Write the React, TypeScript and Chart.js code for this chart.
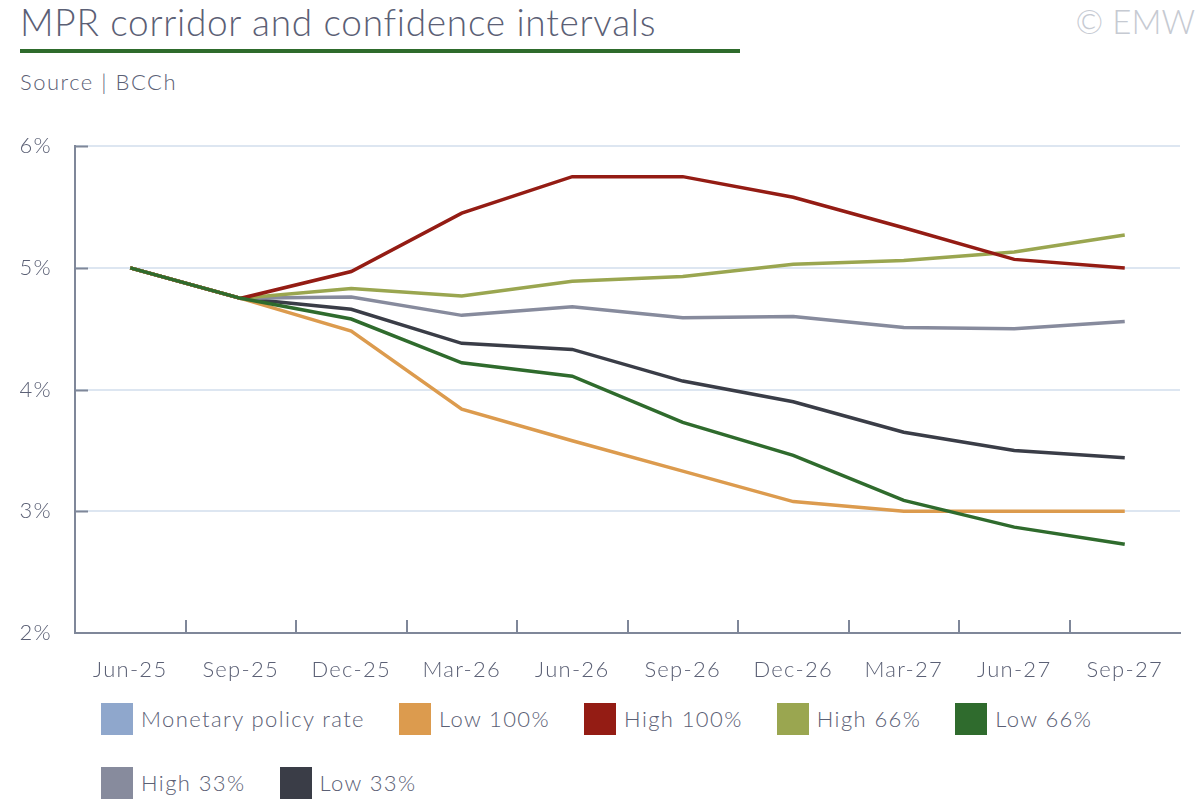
import React, { useEffect, useRef } from "react";
import { Chart, registerables } from "chart.js";
Chart.register(...registerables);

const categories = ["Jun-25", "Sep-25", "Dec-25", "Mar-26", "Jun-26", "Sep-26", "Dec-26", "Mar-27", "Jun-27", "Sep-27"];
const mpr = [5.0, 4.75, null, null, null, null, null, null, null, null];
const low100 = [5.0, 4.75, 4.48, 3.84, 3.58, 3.33, 3.08, 3.0, 3.0, 3.0];
const high100 = [5.0, 4.75, 4.97, 5.45, 5.75, 5.75, 5.58, 5.33, 5.07, 5.0];
const high66 = [5.0, 4.75, 4.83, 4.77, 4.89, 4.93, 5.03, 5.06, 5.13, 5.27];
const low66 = [5.0, 4.75, 4.58, 4.22, 4.11, 3.73, 3.46, 3.09, 2.87, 2.73];
const high33 = [5.0, 4.75, 4.76, 4.61, 4.68, 4.59, 4.6, 4.51, 4.5, 4.56];
const low33 = [5.0, 4.75, 4.66, 4.38, 4.33, 4.07, 3.9, 3.65, 3.5, 3.44];
const seriesNames = ["Monetary policy rate", "Low 100%", "High 100%", "High 66%", "Low 66%", "High 33%", "Low 33%"];
const seriesColors = ["#8fa7cc", "#dc9b4e", "#941c14", "#9aa650", "#2f6b2d", "#878b9d", "#3a3d47"];
const seriesData = [mpr, low100, high100, high66, low66, high33, low33];
const yMin = 2;
const yMax = 6;

const TEXT = "#5b6075";
const AXIS = "#7f8799";
const FONT = "Lato, 'Open Sans', sans-serif";

const spacing = {
  id: "spacing",
  beforeDraw(chart: any) {
    try { chart.ctx.letterSpacing = "1.3px"; } catch (e) {}
  },
};

const innerTicks = {
  id: "innerTicks",
  afterDraw(chart: any) {
    const { ctx } = chart;
    const x = chart.scales.x;
    const y = chart.scales.y;
    ctx.save();
    ctx.strokeStyle = AXIS;
    ctx.lineWidth = 2;
    ctx.beginPath();
    y.ticks.forEach((_t: any, i: number) => {
      const py = Math.round(y.getPixelForTick(i)) + 0.5;
      if (Math.abs(py - y.bottom) < 2) return;
      ctx.moveTo(x.left, py);
      ctx.lineTo(x.left + 13, py);
    });
    for (let i = 1; i < categories.length; i++) {
      const px = Math.round((x.getPixelForValue(i - 1) + x.getPixelForValue(i)) / 2);
      ctx.moveTo(px, y.bottom);
      ctx.lineTo(px, y.bottom - 13);
    }
    ctx.stroke();
    ctx.restore();
  },
};

export default function App() {
  const ref = useRef<HTMLCanvasElement | null>(null);
  useEffect(() => {
    if (!ref.current) return;
    const chart = new Chart(ref.current, {
      type: "line",
      data: {
        labels: categories,
        datasets: seriesNames.map((name, i) => ({
          label: name,
          data: seriesData[i],
          borderColor: seriesColors[i],
          backgroundColor: seriesColors[i],
          borderWidth: 3.5,
          pointRadius: 0,
          tension: 0,
          spanGaps: false,
          order: i === 4 ? -1 : i === 0 ? 10 : 0,
        })),
      },
      options: {
        responsive: false,
        animation: false,
        devicePixelRatio: 1,
        layout: { padding: { top: 35, right: 20, left: 0, bottom: 0 } },
        plugins: { legend: { display: false }, tooltip: { enabled: false }, title: { display: false } },
        scales: {
          x: {
            offset: true,
            grid: { display: true, color: "transparent", drawTicks: false, offset: true },
            border: { display: true, color: AXIS, width: 2 },
            ticks: { color: TEXT, font: { family: FONT, size: 22, weight: "300" }, padding: 24, maxRotation: 0, autoSkip: false },
            afterFit: (s: any) => { s.height = 57; },
          },
          y: {
            min: yMin,
            max: yMax,
            grid: { color: "#dde6f1", lineWidth: 2, drawTicks: false },
            border: { display: true, color: AXIS, width: 2 },
            ticks: {
              stepSize: 1,
              color: TEXT,
              font: { family: FONT, size: 22, weight: "300" },
              padding: 23,
              callback: (v: any) => `${v}%`,
            },
            afterFit: (s: any) => { s.width = 75; },
          },
        },
      },
      plugins: [spacing, innerTicks],
    });
    return () => chart.destroy();
  }, []);

  return (
    <div style={{ position: "absolute", left: 0, top: 0, width: 1200, height: 800, background: "#fff", fontFamily: FONT, color: TEXT, overflow: "hidden", fontWeight: 300 }}>
      <div style={{ position: "absolute", left: 20, top: 0, fontSize: 37, lineHeight: "44px", letterSpacing: "0.7px", whiteSpace: "nowrap" }}>
        MPR corridor and confidence intervals
      </div>
      <div style={{ position: "absolute", left: 20, top: 49, width: 720, height: 4, background: "#2e6b2c" }} />
      <div style={{ position: "absolute", left: 20, top: 68, fontSize: 22, lineHeight: "28px", letterSpacing: "1.5px", whiteSpace: "nowrap" }}>Source | BCCh</div>
      <div style={{ position: "absolute", right: 5, top: 0, fontSize: 33, lineHeight: "42px", color: "#c6cad2", whiteSpace: "nowrap" }}>© EMW</div>
      <div style={{ position: "absolute", left: 0, top: 110, width: 1200, height: 580 }}>
        <canvas ref={ref} width={1200} height={580} style={{ width: 1200, height: 580, display: "block" }} />
      </div>
      <div style={{ position: "absolute", left: 101, top: 703, width: 1090, display: "flex", flexWrap: "wrap", columnGap: 34, rowGap: 32 }}>
        {seriesNames.map((name, i) => (
          <div key={name} style={{ display: "flex", alignItems: "center", height: 32 }}>
            <div style={{ width: 32, height: 32, background: seriesColors[i], marginRight: 8 }} />
            <span style={{ fontSize: 22, lineHeight: "32px", letterSpacing: "1.4px", whiteSpace: "nowrap" }}>{name}</span>
          </div>
        ))}
      </div>
    </div>
  );
}
